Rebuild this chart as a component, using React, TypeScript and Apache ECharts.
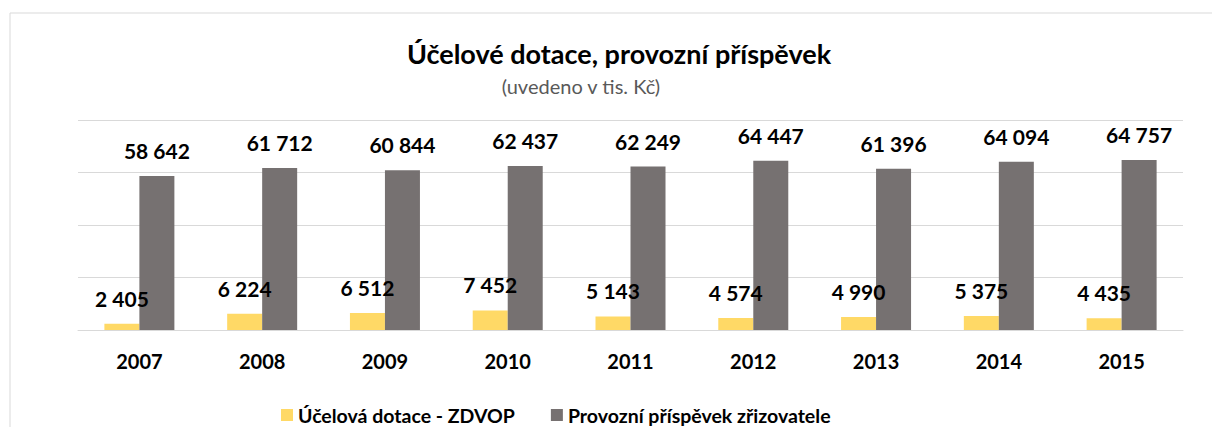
import React, { useEffect, useRef } from "react";
import * as echarts from "echarts";

const years = ["2007", "2008", "2009", "2010", "2011", "2012", "2013", "2014", "2015"];
const ucelovaDotace = [2405, 6224, 6512, 7452, 5143, 4574, 4990, 5375, 4435];
const provozniPrispevek = [58642, 61712, 60844, 62437, 62249, 64447, 61396, 64094, 64757];
const seriesNames = ["Účelová dotace - ZDVOP", "Provozní příspěvek zřizovatele"];
const titleText = "Účelové dotace, provozní příspěvek";
const subtitleText = "(uvedeno v tis. Kč)";

const FONT = "Lato, 'Noto Sans', sans-serif";

const fmt = (v: number) => String(v).replace(/\B(?=(\d{3})+(?!\d))/g, " ");

export default function App() {
  const ref = useRef<HTMLDivElement>(null);
  useEffect(() => {
    if (!ref.current) return;
    const chart = echarts.init(ref.current, null, { renderer: "svg" });
    const labelStyle = {
      show: true,
      position: "top" as const,
      distance: 5,
      offset: [0, -10],
      fontFamily: FONT,
      fontWeight: "bold" as const,
      fontSize: 21,
      color: "#000000",
      formatter: (p: any) => fmt(p.value),
    };
    chart.setOption({
      animation: false,
      backgroundColor: "#ffffff",
      title: [
        {
          text: titleText,
          left: 619,
          top: 40,
          padding: 0,
          textAlign: "center",
          textStyle: { fontFamily: FONT, fontWeight: "bold", fontSize: 27, color: "#000000" },
        },
        {
          text: subtitleText,
          left: 581,
          top: 76,
          padding: 0,
          textAlign: "center",
          textStyle: { fontFamily: FONT, fontWeight: "normal", fontSize: 20, color: "#595959" },
        },
      ],
      legend: {
        left: 281,
        top: 405,
        padding: 0,
        itemWidth: 12,
        itemHeight: 12,
        itemGap: 36,
        icon: "rect",
        textStyle: { fontFamily: FONT, fontWeight: "bold", fontSize: 19.5, color: "#000000" },
        data: seriesNames,
      },
      graphic: [
        {
          type: "rect",
          shape: { x: 10, y: 13, width: 1400, height: 600 },
          style: { fill: "none", stroke: "#D9D9D9", lineWidth: 1 },
          silent: true,
        },
      ],
      grid: { left: 78, right: 29, top: 120, bottom: 97, containLabel: false },
      xAxis: {
        type: "category",
        data: years,
        axisLine: { show: true, lineStyle: { color: "#D9D9D9", width: 1 } },
        axisTick: { show: false },
        axisLabel: {
          margin: 21,
          fontFamily: FONT,
          fontWeight: "bold",
          fontSize: 20,
          color: "#000000",
        },
      },
      yAxis: {
        type: "value",
        min: 0,
        max: 80000,
        interval: 20000,
        axisLabel: { show: false },
        axisLine: { show: false },
        axisTick: { show: false },
        splitLine: { show: true, lineStyle: { color: "#D9D9D9", width: 1 } },
      },
      series: [
        {
          name: seriesNames[0],
          type: "bar",
          data: ucelovaDotace,
          barWidth: 35,
          barGap: "0%",
          itemStyle: { color: "#FFD966" },
          label: labelStyle,
        },
        {
          name: seriesNames[1],
          type: "bar",
          data: provozniPrispevek,
          barWidth: 35,
          barGap: "0%",
          itemStyle: { color: "#767171" },
          label: labelStyle,
        },
      ],
    });
    return () => chart.dispose();
  }, []);
  return (
    <div
      ref={ref}
      style={{ position: "fixed", left: 0, top: 0, width: 1212, height: 427 }}
    />
  );
}
